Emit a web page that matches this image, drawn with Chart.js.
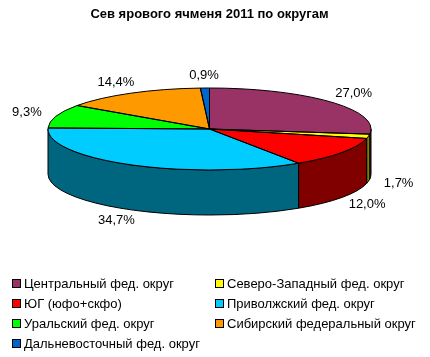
<!DOCTYPE html>
<html><head><meta charset="utf-8">
<script src="https://cdn.jsdelivr.net/npm/chart.js@4/dist/chart.umd.min.js"></script>
<style>
html,body{margin:0;padding:0;background:#fff;}
#wrap{position:relative;width:430px;height:357px;overflow:hidden;}
#c{position:absolute;left:0;top:0;}
#legend{position:absolute;left:0;top:274px;width:430px;height:83px;font:13px "Liberation Sans",Arial,sans-serif;color:#000;}
.item{position:absolute;height:20px;line-height:20px;white-space:nowrap;padding-left:12px;}
.box{position:absolute;left:0;top:5px;width:7px;height:7px;border:1px solid #000;}
</style>
</head><body>
<div id="wrap">
<canvas id="c" width="430" height="357"></canvas>
<div id="legend"></div>
</div>
<script>
const chartTitle = 'Сев ярового ячменя 2011 по округам';
const categories = ['Центральный фед. округ', 'Северо-Западный фед. округ', 'ЮГ (юфо+скфо)', 'Приволжский фед. округ', 'Уральский фед. округ', 'Сибирский федеральный округ', 'Дальневосточный фед. округ'];
const shares = [27.0, 1.7, 12.0, 34.7, 9.3, 14.4, 0.9];
const topColors = ['#993366', '#FFFF00', '#FF0000', '#00CCFF', '#00FF00', '#FF9900', '#0066CC'];
const sideColors = ['#4D1A33', '#808000', '#800000', '#006680', '#008000', '#804D00', '#003366'];

const PIE = {cy: 129, ry: 41, depth: 45};
const FONT = '"Liberation Sans", Arial, sans-serif';

const pie3d = {
  id: 'pie3d',
  beforeDatasetsDraw(chart) {
    const ctx = chart.ctx;
    const meta = chart.getDatasetMeta(0);
    const a0 = meta.data[0];
    const cx = a0.x, R = a0.outerRadius, cy = PIE.cy, ry = PIE.ry, d = PIE.depth;
    ctx.save();
    ctx.lineWidth = 1; ctx.strokeStyle = '#000'; ctx.lineJoin = 'round';
    meta.data.forEach((arc, i) => {
      const s = Math.max(arc.startAngle, 0), e = Math.min(arc.endAngle, Math.PI);
      if (e <= s) return;
      ctx.beginPath();
      ctx.ellipse(cx, cy, R, ry, 0, s, e, false);
      ctx.lineTo(cx + R * Math.cos(e), cy + d + ry * Math.sin(e));
      ctx.ellipse(cx, cy + d, R, ry, 0, e, s, true);
      ctx.closePath();
      ctx.fillStyle = sideColors[i];
      ctx.fill();
      ctx.stroke();
    });
    ctx.restore();
    ctx.save();
    ctx.translate(0, cy);
    ctx.scale(1, ry / R);
    ctx.translate(0, -a0.y);
  },
  afterDatasetsDraw(chart) {
    const ctx = chart.ctx;
    ctx.restore();
    const meta = chart.getDatasetMeta(0);
    const a0 = meta.data[0];
    const cx = a0.x, R = a0.outerRadius, cy = PIE.cy, ry = PIE.ry, d = PIE.depth;
    ctx.save();
    ctx.lineWidth = 1; ctx.strokeStyle = '#000'; ctx.lineJoin = 'round';
    meta.data.forEach((arc) => {
      ctx.beginPath();
      ctx.moveTo(cx, cy);
      ctx.ellipse(cx, cy, R, ry, 0, arc.startAngle, arc.endAngle, false);
      ctx.closePath();
      ctx.stroke();
    });
    ctx.fillStyle = '#000';
    ctx.font = '13px ' + FONT;
    ctx.textAlign = 'center';
    ctx.textBaseline = 'middle';
    meta.data.forEach((arc, i) => {
      const m = (arc.startAngle + arc.endAngle) / 2;
      const x = cx + Math.cos(m) * R * 1.19;
      const y = cy + Math.sin(m) * ry * 1.3 + (Math.sin(m) > 0 ? d : 0);
      ctx.fillText(shares[i].toFixed(1).replace('.', ',') + '%', x, y);
    });
    ctx.restore();
  }
};

const chart = new Chart(document.getElementById('c'), {
  type: 'pie',
  data: {
    labels: categories,
    datasets: [{
      data: shares,
      backgroundColor: topColors,
      borderWidth: 0,
      hoverOffset: 0,
      clip: false
    }]
  },
  options: {
    responsive: false,
    devicePixelRatio: 1,
    animation: false,
    events: [],
    layout: {padding: {left: 48, right: 59, top: 0, bottom: 0}},
    plugins: {
      legend: {display: false},
      tooltip: {enabled: false},
      title: {
        display: true,
        text: chartTitle,
        color: '#000',
        font: {family: FONT, size: 13, weight: 'bold'},
        padding: {top: 7, bottom: 0}
      }
    }
  },
  plugins: [pie3d]
});

// HTML legend built from the same arrays
const legendEl = document.getElementById('legend');
const colX = [12, 215];
categories.forEach((name, i) => {
  const item = document.createElement('div');
  item.className = 'item';
  item.style.left = colX[i % 2] + 'px';
  item.style.top = (Math.floor(i / 2) * 20) + 'px';
  const box = document.createElement('span');
  box.className = 'box';
  box.style.background = topColors[i];
  item.appendChild(box);
  item.appendChild(document.createTextNode(name));
  legendEl.appendChild(item);
});
</script>
</body></html>
